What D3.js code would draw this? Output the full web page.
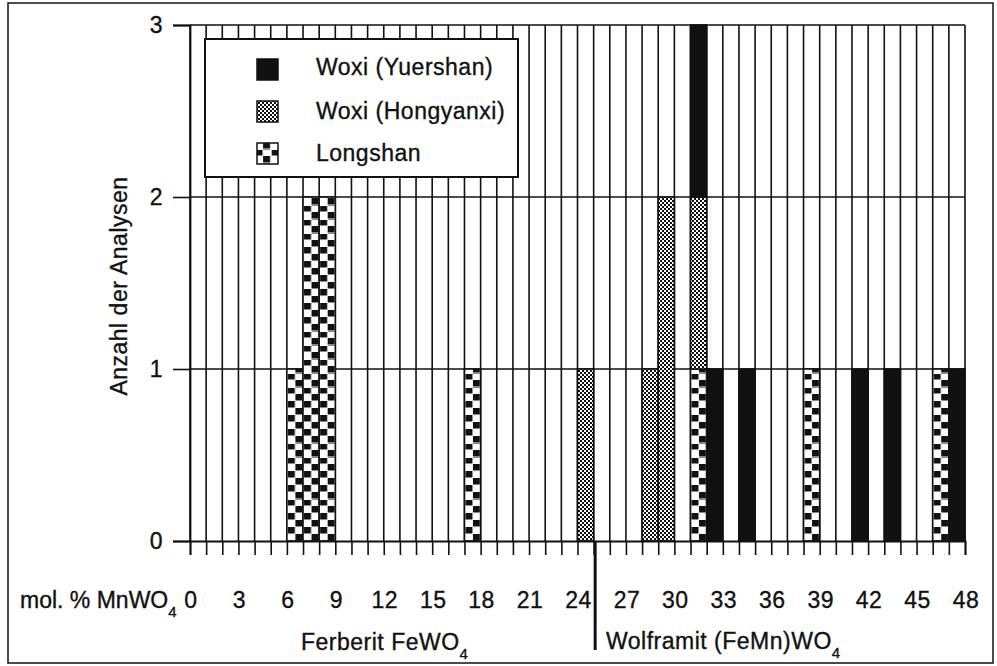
<!DOCTYPE html>
<html>
<head>
<meta charset="utf-8">
<script src="https://cdn.jsdelivr.net/npm/d3@7"></script>
<style>
  html, body { margin: 0; padding: 0; background: #fff; }
  svg { display: block; }
  text { font-family: "Liberation Sans", Arial, Helvetica, sans-serif; fill: #111;
         stroke: #111; stroke-width: 0.35px; letter-spacing: 0.5px; }
</style>
</head>
<body>
<svg id="chart" width="997" height="666"></svg>
<script>
// Composition bins (mol. % MnWO4), lower bound of each 1 %-wide class
const binStart = [0,1,2,3,4,5,6,7,8,9,10,11,12,13,14,15,16,17,18,19,20,21,22,23,
                  24,25,26,27,28,29,30,31,32,33,34,35,36,37,38,39,40,41,42,43,44,45,46,47];

// Number of analyses per bin and locality
const longshan  = [0,0,0,0,0,0,1,2,2,0,0,0,0,0,0,0,0,1,0,0,0,0,0,0,
                   0,0,0,0,0,0,0,1,0,0,0,0,0,0,1,0,0,0,0,0,0,0,1,0];
const hongyanxi = [0,0,0,0,0,0,0,0,0,0,0,0,0,0,0,0,0,0,0,0,0,0,0,0,
                   1,0,0,0,1,2,0,1,0,0,0,0,0,0,0,0,0,0,0,0,0,0,0,0];
const yuershan  = [0,0,0,0,0,0,0,0,0,0,0,0,0,0,0,0,0,0,0,0,0,0,0,0,
                   0,0,0,0,0,0,0,1,1,0,1,0,0,0,0,0,0,1,0,1,0,0,0,1];

const seriesNames = ["Longshan", "Woxi (Hongyanxi)", "Woxi (Yuershan)"];
const legendOrder = ["Woxi (Yuershan)", "Woxi (Hongyanxi)", "Longshan"];
const xTickLabels = ["0","3","6","9","12","15","18","21","24","27","30","33","36","39","42","45","48"];
const yTickLabels = ["0","1","2","3"];

const svg = d3.select("#chart");
const ink = "#111";
const fontSize = 23;

const x = d3.scaleLinear().domain([0, 48]).range([190, 965]);
const y = d3.scaleLinear().domain([0, 3]).range([541, 25]);
const binW = x(1) - x(0);

// Fill patterns
const defs = svg.append("defs");
const pChk = defs.append("pattern").attr("id", "pat-hong")
  .attr("patternUnits", "userSpaceOnUse").attr("width", 4).attr("height", 4);
pChk.append("rect").attr("width", 4).attr("height", 4).attr("fill", "#fff");
pChk.append("rect").attr("x", 0).attr("y", 0).attr("width", 2).attr("height", 2).attr("fill", ink);
pChk.append("rect").attr("x", 2).attr("y", 2).attr("width", 2).attr("height", 2).attr("fill", ink);

// Staggered block pattern, aligned to the bin columns
const pBlk = defs.append("pattern").attr("id", "pat-long")
  .attr("patternUnits", "userSpaceOnUse")
  .attr("x", x(0)).attr("y", y(0))
  .attr("width", binW).attr("height", 14);
pBlk.append("rect").attr("width", binW).attr("height", 14).attr("fill", "#fff");
pBlk.append("rect").attr("x", 1).attr("y", 0).attr("width", 7).attr("height", 6.5).attr("fill", ink);
pBlk.append("rect").attr("x", 8.5).attr("y", 7).attr("width", 7).attr("height", 6.5).attr("fill", ink);

const fills = {
  "Woxi (Yuershan)": ink,
  "Woxi (Hongyanxi)": "url(#pat-hong)",
  "Longshan": "url(#pat-long)"
};

// Outer frame
svg.append("rect").attr("x", 8).attr("y", 3).attr("width", 985).attr("height", 660)
  .attr("fill", "none").attr("stroke", ink).attr("stroke-width", 1.5);

// Grid: one vertical line per bin boundary, horizontal line per count
const grid = svg.append("g");
grid.selectAll("line.v").data(d3.range(0, 49)).join("line")
  .attr("x1", d => x(d)).attr("x2", d => x(d))
  .attr("y1", y(3)).attr("y2", y(0))
  .attr("stroke", ink).attr("stroke-width", 1.6);
grid.selectAll("line.h").data([1, 2, 3]).join("line")
  .attr("x1", x(0)).attr("x2", x(48))
  .attr("y1", d => y(d)).attr("y2", d => y(d))
  .attr("stroke", ink).attr("stroke-width", 1.6);

// Stacked bars
const rows = binStart.map((b, i) => ({
  bin: b,
  "Longshan": longshan[i],
  "Woxi (Hongyanxi)": hongyanxi[i],
  "Woxi (Yuershan)": yuershan[i]
}));
const stacked = d3.stack().keys(seriesNames)(rows);
svg.append("g").selectAll("g").data(stacked).join("g")
  .attr("fill", s => fills[s.key])
  .selectAll("rect").data(s => s.filter(d => d[1] - d[0] > 0)).join("rect")
  .attr("x", d => x(d.data.bin))
  .attr("width", d => x(d.data.bin + 1) - x(d.data.bin))
  .attr("y", d => y(d[1]))
  .attr("height", d => y(d[0]) - y(d[1]))
  .attr("stroke", ink).attr("stroke-width", 1.6);

// Axes
const xAxis = svg.append("g").attr("transform", `translate(0,${y(0)})`)
  .call(d3.axisBottom(x).tickValues(d3.range(0, 49)).tickSize(14).tickFormat(""));
const yAxis = svg.append("g").attr("transform", `translate(${x(0)},0)`)
  .call(d3.axisLeft(y).tickValues([0, 1, 2, 3]).tickSize(17).tickFormat(""));
[xAxis, yAxis].forEach(a => {
  a.select(".domain").attr("stroke", ink).attr("stroke-width", 1.8);
  a.selectAll(".tick line").attr("stroke", ink).attr("stroke-width", 1.6);
});

// Tick labels
svg.append("g").selectAll("text").data(xTickLabels).join("text")
  .attr("x", d => x(+d) + 1).attr("y", 608)
  .attr("text-anchor", "middle").attr("font-size", fontSize)
  .text(d => d);
svg.append("g").selectAll("text").data(yTickLabels).join("text")
  .attr("x", 163).attr("y", d => y(+d) + 8)
  .attr("text-anchor", "end").attr("font-size", fontSize)
  .text(d => d);

// Axis titles
const xt = svg.append("text").attr("x", 20).attr("y", 608).attr("font-size", fontSize)
  .style("letter-spacing", "0px");
xt.append("tspan").text("mol. % MnWO");
xt.append("tspan").attr("dy", 9).attr("font-size", 15).text("4");

svg.append("text")
  .attr("transform", "translate(127,286) rotate(-90)")
  .attr("text-anchor", "middle").attr("font-size", fontSize)
  .text("Anzahl der Analysen");

// Ferberit / Wolframit divider
svg.append("line")
  .attr("x1", x(25) + 1.5).attr("x2", x(25) + 1.5)
  .attr("y1", y(0)).attr("y2", 650)
  .attr("stroke", ink).attr("stroke-width", 3);

const fe = svg.append("text").attr("x", 301).attr("y", 650).attr("font-size", fontSize);
fe.append("tspan").text("Ferberit FeWO");
fe.append("tspan").attr("dy", 9).attr("font-size", 15).text("4");

const wo = svg.append("text").attr("x", 606).attr("y", 649).attr("font-size", fontSize);
wo.append("tspan").text("Wolframit (FeMn)WO");
wo.append("tspan").attr("dy", 9).attr("font-size", 15).text("4");

// Legend
const lg = svg.append("g");
lg.append("rect").attr("x", 205).attr("y", 39).attr("width", 313).attr("height", 138)
  .attr("fill", "#fff").attr("stroke", ink).attr("stroke-width", 2);
const swatchY = [59, 101, 143];
const textY = [75, 119, 161];
legendOrder.forEach((name, i) => {
  lg.append("rect").attr("x", 257).attr("y", swatchY[i]).attr("width", 21).attr("height", 21)
    .attr("fill", fills[name]).attr("stroke", ink).attr("stroke-width", 1.5);
  lg.append("text").attr("x", 316).attr("y", textY[i]).attr("font-size", fontSize).text(name);
});
</script>
</body>
</html>
